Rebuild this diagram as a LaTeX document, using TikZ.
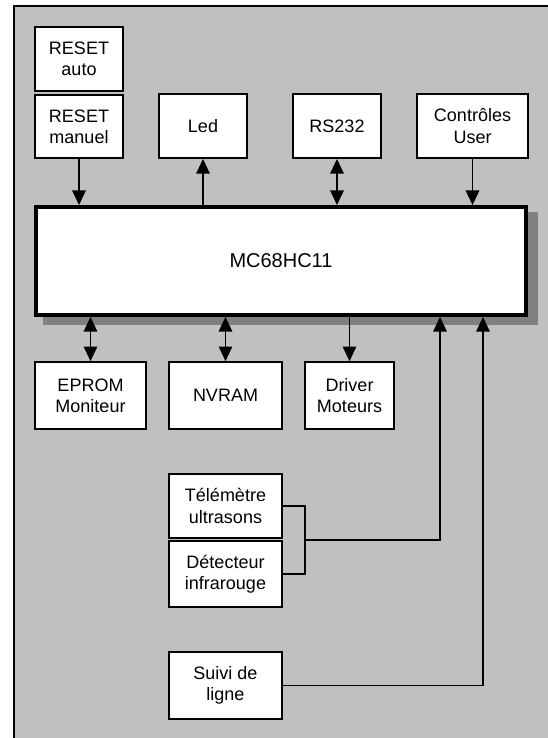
\documentclass[tikz,border=0pt]{standalone}
\usepackage{fontspec}
\setmainfont{Liberation Sans}
\usetikzlibrary{arrows.meta}
\definecolor{fond}{HTML}{C0C0C0}
\definecolor{ombre}{HTML}{808080}
\tikzset{
  bloc/.style={draw,line width=1.4pt,fill=white,align=center,inner sep=0pt,
    font=\fontsize{13.5}{16}\selectfont},
  fleche/.style={line width=1.4pt,-{Triangle[length=11pt,width=10pt]}},
  dfleche/.style={line width=1.4pt,{Triangle[length=11pt,width=10pt]}-{Triangle[length=11pt,width=10pt]}}
}
\begin{document}
\begin{tikzpicture}
[x=0.75pt,y=-0.75pt]
\useasboundingbox (0,0) rectangle (547,738);
\draw[line width=1.5pt,fill=fond] (14,6) rectangle (570,760);

% blocs du haut
\node (rauto) at (79,59) [bloc,minimum width=66pt,minimum height=48pt]{RESET\\auto};
\node (rman) at (79,126.5) [bloc,minimum width=66pt,minimum height=47pt]{RESET\\manuel};
\node (led) at (203,126) [bloc,minimum width=66pt,minimum height=48pt]{Led};
\node (rs) at (337,126) [bloc,minimum width=66pt,minimum height=48pt]{RS232};
\node (ctrl) at (472.5,126) [bloc,minimum width=83pt,minimum height=48pt]{Contrôles\\User};

% microcontroleur
\fill[ombre] (43,212) rectangle (538,325);
\node (mc) at (281,261) [bloc,line width=2.8pt,minimum width=367pt,minimum height=81pt,
  font=\fontsize{15}{18}\selectfont]{MC68HC11};

% blocs du bas
\node (eprom) at (90.5,395.5) [bloc,minimum width=83pt,minimum height=50pt]{EPROM\\Moniteur};
\node (nvram) at (225.5,395.5) [bloc,minimum width=85pt,minimum height=50pt]{NVRAM};
\node (driver) at (349.5,395.5) [bloc,minimum width=67pt,minimum height=50pt]{Driver\\Moteurs};

% capteurs
\node (tele) at (225.5,506) [bloc,minimum width=85pt,minimum height=48pt]{Télémètre\\ultrasons};
\node (detect) at (225.5,574) [bloc,minimum width=85pt,minimum height=50pt]{Détecteur\\infrarouge};
\node (suivi) at (225.5,685.5) [bloc,minimum width=85pt,minimum height=50pt]{Suivi de\\ligne};

\draw[fleche] (rman.south) -- (rman.south |- mc.north);
\draw[fleche] (led.south |- mc.north) -- (led.south);
\draw[dfleche] (rs.south) -- (rs.south |- mc.north);
\draw[fleche] (ctrl.south) -- (ctrl.south |- mc.north);

\draw[dfleche] (eprom.north |- mc.south) -- (eprom.north);
\draw[dfleche] (nvram.north |- mc.south) -- (nvram.north);
\draw[fleche] (driver.north |- mc.south) -- (driver.north);

\coordinate (jonction) at (305,540);
\coordinate (capteurs) at (440,540);
\coordinate (ligne) at (483,685.5);
\draw[line width=1.4pt] (tele.east) -| (jonction) |- (detect.east);
\draw[fleche] (jonction) -- (capteurs) -- (capteurs |- mc.south);
\draw[fleche] (suivi.east) -- (ligne) -- (ligne |- mc.south);

\end{tikzpicture}
\end{document}
